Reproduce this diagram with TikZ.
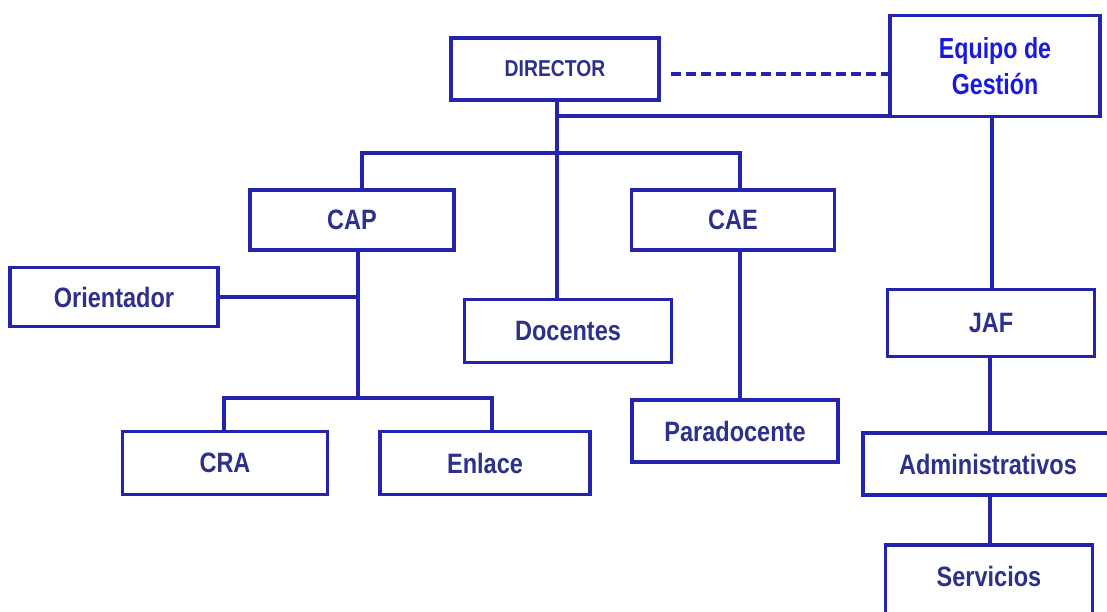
\documentclass[tikz,border=0pt]{standalone}
\usepackage{fontspec}
\usepackage{graphicx}
\setmainfont{Liberation Sans}
\definecolor{ln}{RGB}{35,35,175}
\definecolor{tx}{RGB}{45,48,140}
\definecolor{eq}{RGB}{25,25,230}
\newcommand{\cz}[1]{\scalebox{0.84}[1]{#1}}
\begin{document}
\begin{tikzpicture}[x=1pt,y=-1pt,
  box/.style={draw=ln,line width=3.5pt,text=tx,font=\fontsize{28}{32}\selectfont\bfseries,inner sep=0pt},
  conn/.style={draw=ln,line width=3.5pt}]
\useasboundingbox (0,0) rectangle (1107,612);
\begin{scope}
\clip (0,0) rectangle (1107,612);
% boxes
\node[box,minimum width=208,minimum height=62,font=\fontsize{23}{26}\selectfont\bfseries] (dir) at (555,69) {\cz{DIRECTOR}};
\node[box,minimum width=210,minimum height=101,text=eq,align=center,font=\fontsize{29}{36}\selectfont\bfseries] (eq) at (995,66) {\scalebox{0.8}[1]{Equipo de}\\\scalebox{0.8}[1]{Gestión}};
\node[box,minimum width=204,minimum height=60] (cap) at (352,220) {\cz{CAP}};
\node[box,minimum width=203,minimum height=60] (cae) at (733,220) {\cz{CAE}};
\node[box,minimum width=208,minimum height=59] (ori) at (114,297) {\cz{Orientador}};
\node[box,minimum width=207,minimum height=63] (doc) at (568,331) {\cz{Docentes}};
\node[box,minimum width=207,minimum height=67] (jaf) at (991,323) {\cz{JAF}};
\node[box,minimum width=205,minimum height=63] (cra) at (225,463) {\cz{CRA}};
\node[box,minimum width=210,minimum height=63] (enl) at (485,463) {\cz{Enlace}};
\node[box,minimum width=206,minimum height=62] (par) at (735,431) {\cz{Paradocente}};
\node[box,minimum width=250,minimum height=62] (adm) at (988,464) {\cz{Administrativos}};
\node[box,minimum width=207,minimum height=80,text depth=18pt] (ser) at (989,585) {\cz{Servicios}};
% connectors
\coordinate (d0) at (dir.south -| 557,0);
\coordinate (d1) at (557,116);
\coordinate (d2) at (557,153);
\draw[conn] (d0) -- (d0 |- doc.north);
\draw[conn] (d1) -- (d1 -| eq.west);
\draw[conn,dashed,dash pattern=on 10pt off 5pt] (dir.east) ++(10,5) -- (eq.west |- 0,74);
\coordinate (b1) at (362,153);
\coordinate (b2) at (740,153);
\draw[conn] (b1 |- cap.north) -- (b1) -- (b2) -- (b2 |- cae.north);
\draw[conn] (992,0 |- eq.south) -- (992,0 |- jaf.north);
\coordinate (c0) at (358,0);
\draw[conn] (c0 |- cap.south) -- (358,398);
\draw[conn] (ori.east) -- (358,0 |- ori.east);
\draw[conn] (224,430) -- (224,398) -- (492,398) -- (492,0 |- enl.north);
\draw[conn] (740,0 |- cae.south) -- (740,0 |- par.north);
\draw[conn] (990,0 |- jaf.south) -- (990,0 |- adm.north);
\draw[conn] (990,0 |- adm.south) -- (990,0 |- ser.north);
\end{scope}
\end{tikzpicture}
\end{document}
